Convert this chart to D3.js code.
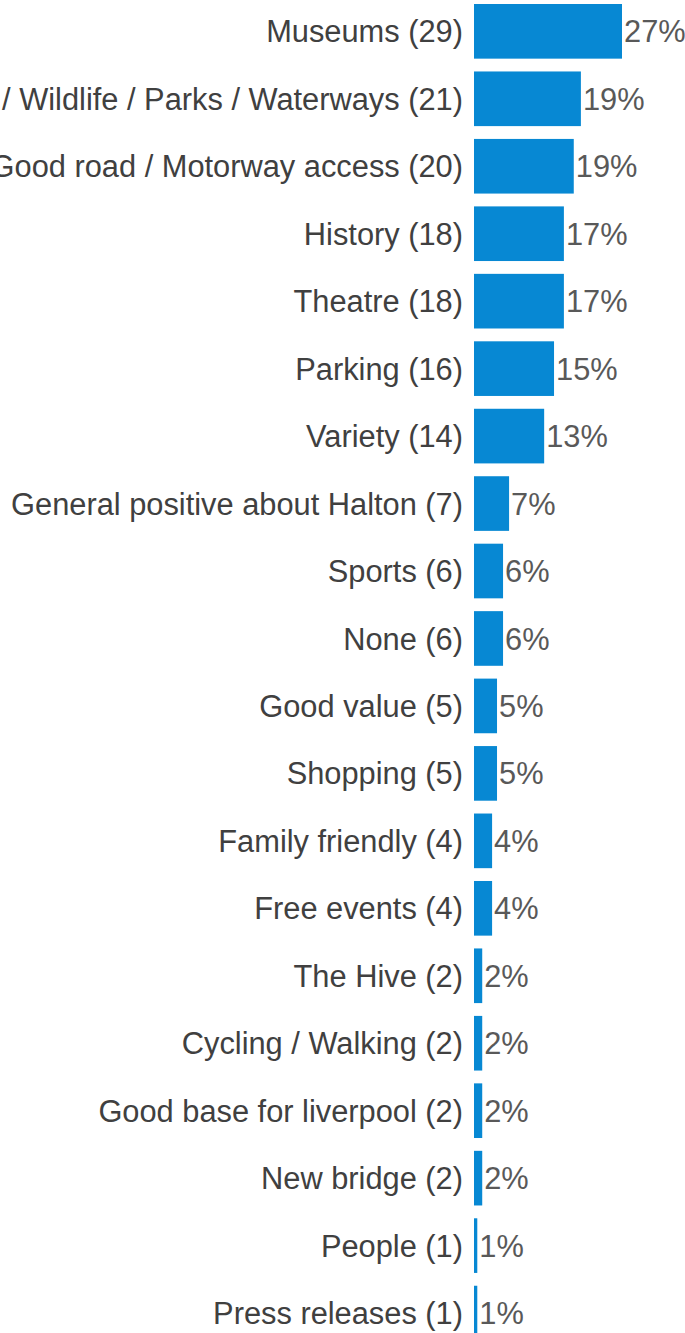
<!DOCTYPE html>
<html>
<head>
<meta charset="utf-8">
<script src="https://cdn.jsdelivr.net/npm/d3@7"></script>
<style>
    html, body { margin: 0; padding: 0; background: #fff; overflow: hidden; }
    svg { display: block; font-family: "Liberation Sans", Arial, sans-serif; }
    .cat-label { fill: #404040; font-size: 30.8px; }
    .val-label { fill: #595959; font-size: 30.8px; }
    .bar { fill: #0788d3; }
</style>
</head>
<body>
<svg id="chart"></svg>
<script>
var categories = [
    "Museums", "Nature / Wildlife / Parks / Waterways", "Good road / Motorway access",
    "History", "Theatre", "Parking", "Variety", "General positive about Halton",
    "Sports", "None", "Good value", "Shopping", "Family friendly", "Free events",
    "The Hive", "Cycling / Walking", "Good base for liverpool", "New bridge",
    "People", "Press releases"
];
var counts = [29, 21, 20, 18, 18, 16, 14, 7, 6, 6, 5, 5, 4, 4, 2, 2, 2, 2, 1, 1];
// share of respondents
var values = [27.0, 19.5, 18.2, 16.4, 16.4, 14.6, 12.8, 6.4, 5.3, 5.3, 4.2, 4.2, 3.3, 3.3, 1.5, 1.5, 1.5, 1.5, 0.6, 0.6];
var valueLabels = ["27%", "19%", "19%", "17%", "17%", "15%", "13%", "7%", "6%", "6%",
    "5%", "5%", "4%", "4%", "2%", "2%", "2%", "2%", "1%", "1%"];

var WIDTH = 685;
var HEIGHT = 1333;

var rows = categories.map(function(name, i) {
    return {
        name: name,
        label: name + " (" + counts[i] + ")",
        value: values[i],
        valueLabel: valueLabels[i]
    };
});

var svg = d3.select("#chart")
    .attr("width", WIDTH)
    .attr("height", HEIGHT)
    .attr("viewBox", "0 0 " + WIDTH + " " + HEIGHT);

var x = d3.scaleLinear()
    .domain([0, 27])
    .range([474, 622]);

var y = d3.scaleBand()
    .domain(rows.map(function(d) { return d.name; }))
    .range([-2.4, 1346.8])
    .paddingInner(0.19)
    .paddingOuter(0.095);

var row = svg.selectAll(".row")
    .data(rows)
    .enter()
    .append("g")
    .attr("class", "row")
    .attr("transform", function(d) { return "translate(0," + y(d.name) + ")"; });

row.append("rect")
    .attr("class", "bar")
    .attr("x", x(0))
    .attr("width", function(d) { return x(d.value) - x(0); })
    .attr("height", y.bandwidth());

// category names run off the left edge on the long rows, as in the source
row.append("text")
    .attr("class", "cat-label")
    .attr("x", x(0) - 11)
    .attr("y", y.bandwidth() / 2)
    .attr("dy", "0.36em")
    .attr("text-anchor", "end")
    .text(function(d) { return d.label; });

row.append("text")
    .attr("class", "val-label")
    .attr("x", function(d) { return x(d.value) + 2; })
    .attr("y", y.bandwidth() / 2)
    .attr("dy", "0.36em")
    .text(function(d) { return d.valueLabel; });
</script>
</body>
</html>
